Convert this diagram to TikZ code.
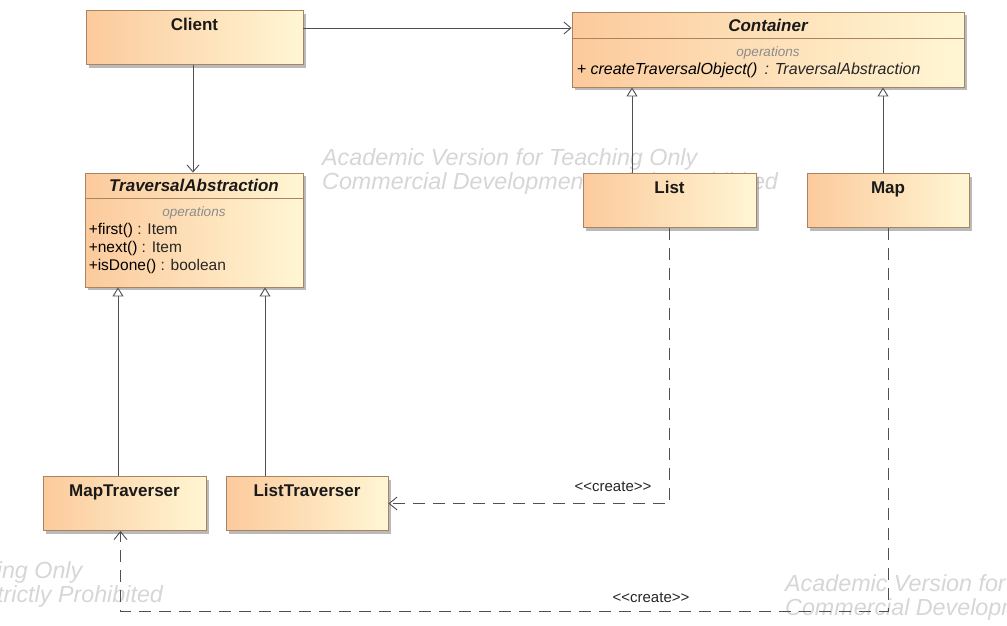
\documentclass[tikz,border=0pt]{standalone}
\usepackage{fontspec}
\usepackage{tikz}
\usetikzlibrary{arrows.meta,shadows,positioning}
\newfontfamily\umlfont{Liberation Sans}
\definecolor{UmlFillLeft}{RGB}{252,202,156}
\definecolor{UmlFillRight}{RGB}{255,246,212}
\definecolor{UmlBorder}{RGB}{170,132,94}
\definecolor{UmlLine}{RGB}{80,80,80}
\definecolor{UmlWatermark}{RGB}{214,214,214}

\begin{document}
\begin{tikzpicture}[x=1pt,y=-1pt,every node/.style={font=\umlfont},
  cls/.style n args={2}{draw=UmlBorder,line width=0.9pt,minimum width=#1,minimum height=#2,inner sep=0,
    left color=UmlFillLeft,right color=UmlFillRight,
    drop shadow={shadow xshift=3pt,shadow yshift=-3pt,fill=black!45,opacity=0.6}},
  clsname/.style={anchor=base,inner sep=0,font=\umlfont\bfseries\fontsize{17}{20}\selectfont,text=black!90},
  opshead/.style={anchor=base,inner sep=0,font=\umlfont\itshape\fontsize{13.5}{16}\selectfont,text=black!45},
  op/.style={anchor=base west,inner sep=0,font=\umlfont\fontsize{15.5}{18}\selectfont,text=black!85},
  stereo/.style={inner sep=0,font=\umlfont\fontsize{15}{18}\selectfont,text=black!85},
  wmark/.style={anchor=west,align=left,inner sep=0,font=\umlfont\itshape\fontsize{23.3}{23.5}\selectfont,text=UmlWatermark},
  assoc/.style={draw=UmlLine,line width=0.9pt,-{Straight Barb[length=7pt,width=12pt]}},
  gen/.style={draw=UmlLine,line width=0.9pt,-{Triangle[open,length=9pt,width=11pt,fill=white]}},
  dep/.style={draw=UmlLine,line width=0.9pt,dash pattern=on 12pt off 8pt,-{Straight Barb[length=8pt,width=13pt]}}]
\useasboundingbox (0,0) rectangle (1007,625);
\clip (0,0) rectangle (1007,625);
% watermark
\foreach \x/\y [count=\i] in {322/171.5,785/597.5,-293/584.5} {
   \node[wmark] (wm\i) at (\x,\y) {Academic Version for Teaching Only\\Commercial Development Strictly Prohibited};
}
% simple classes
\foreach \n/\x/\y/\w in %
{Client/194.5/37.5/217,List/669.5/200.5/173,Map/888/200.5/162,MapTraverser/124.5/503.5/163,ListTraverser/307/503.5/162} {
   \node[cls={\w pt}{54pt}] (\n) at (\x,\y) {};
   \node[clsname] (\n-name) at ([yshift=-20pt]\n.north) {\n};
}
% abstract classes
\node[cls={392pt}{75pt}] (Container) at (768,49.5) {};
\node[clsname,font=\umlfont\bfseries\itshape\fontsize{17}{20}\selectfont] (Container-name) at ([yshift=-20pt]Container.north) {Container};
\draw[UmlBorder,line width=0.9pt] ([yshift=-27pt]Container.north west) -- ([yshift=-27pt]Container.north east);
\node[opshead] (Container-ops) at ([yshift=-45pt]Container.north) {operations};
\node[op,font=\umlfont\itshape\fontsize{16}{18}\selectfont] (Container-op1) at ([xshift=5pt,yshift=-63pt]Container.north west)
   {\textcolor{black}{+ createTraversalObject()}\, : TraversalAbstraction};

\node[cls={218pt}{114pt}] (TA) at (194,230) {};
\node[clsname,font=\umlfont\bfseries\itshape\fontsize{17}{20}\selectfont] (TA-name) at ([yshift=-19pt]TA.north) {TraversalAbstraction};
\draw[UmlBorder,line width=0.9pt] ([yshift=-26pt]TA.north west) -- ([yshift=-26pt]TA.north east);
\node[opshead] (TA-ops) at ([yshift=-44pt]TA.north) {operations};
\foreach \o/\t [count=\i] in %
{first()/Item,next()/Item,isDone()/boolean} {
   \node[op] (TA-op\i) at ([xshift=4pt,yshift=-44pt-18pt*\i]TA.north west) {\textcolor{black}{+\o} : \t};
}
% connectors
\draw[assoc] ([yshift=9.5pt]Client.east) -- ([yshift=9.5pt]Client.east -| Container.west);
\draw[assoc] ([xshift=-1.5pt]Client.south) -- ([xshift=-1.5pt]Client.south |- TA.north);
\draw[gen] ([xshift=-37.5pt]List.north) -- ([xshift=-37.5pt]List.north |- Container.south);
\draw[gen] ([xshift=-5pt]Map.north) -- ([xshift=-5pt]Map.north |- Container.south);
\draw[gen] ([xshift=-6.5pt]MapTraverser.north) -- ([xshift=-6.5pt]MapTraverser.north |- TA.south);
\draw[gen] ([xshift=-42pt]ListTraverser.north) -- ([xshift=-42pt]ListTraverser.north |- TA.south);
\coordinate (mapbend) at (0,611);
\draw[dep] (List.south) |- (ListTraverser.east);
\draw[dep] (Map.south) -- (Map.south |- mapbend) -| ([xshift=-4pt]MapTraverser.south);
\node[stereo] (create1) at (613,487) {<<create>>};
\node[stereo] (create2) at (651,598) {<<create>>};
\end{tikzpicture}
\end{document}
